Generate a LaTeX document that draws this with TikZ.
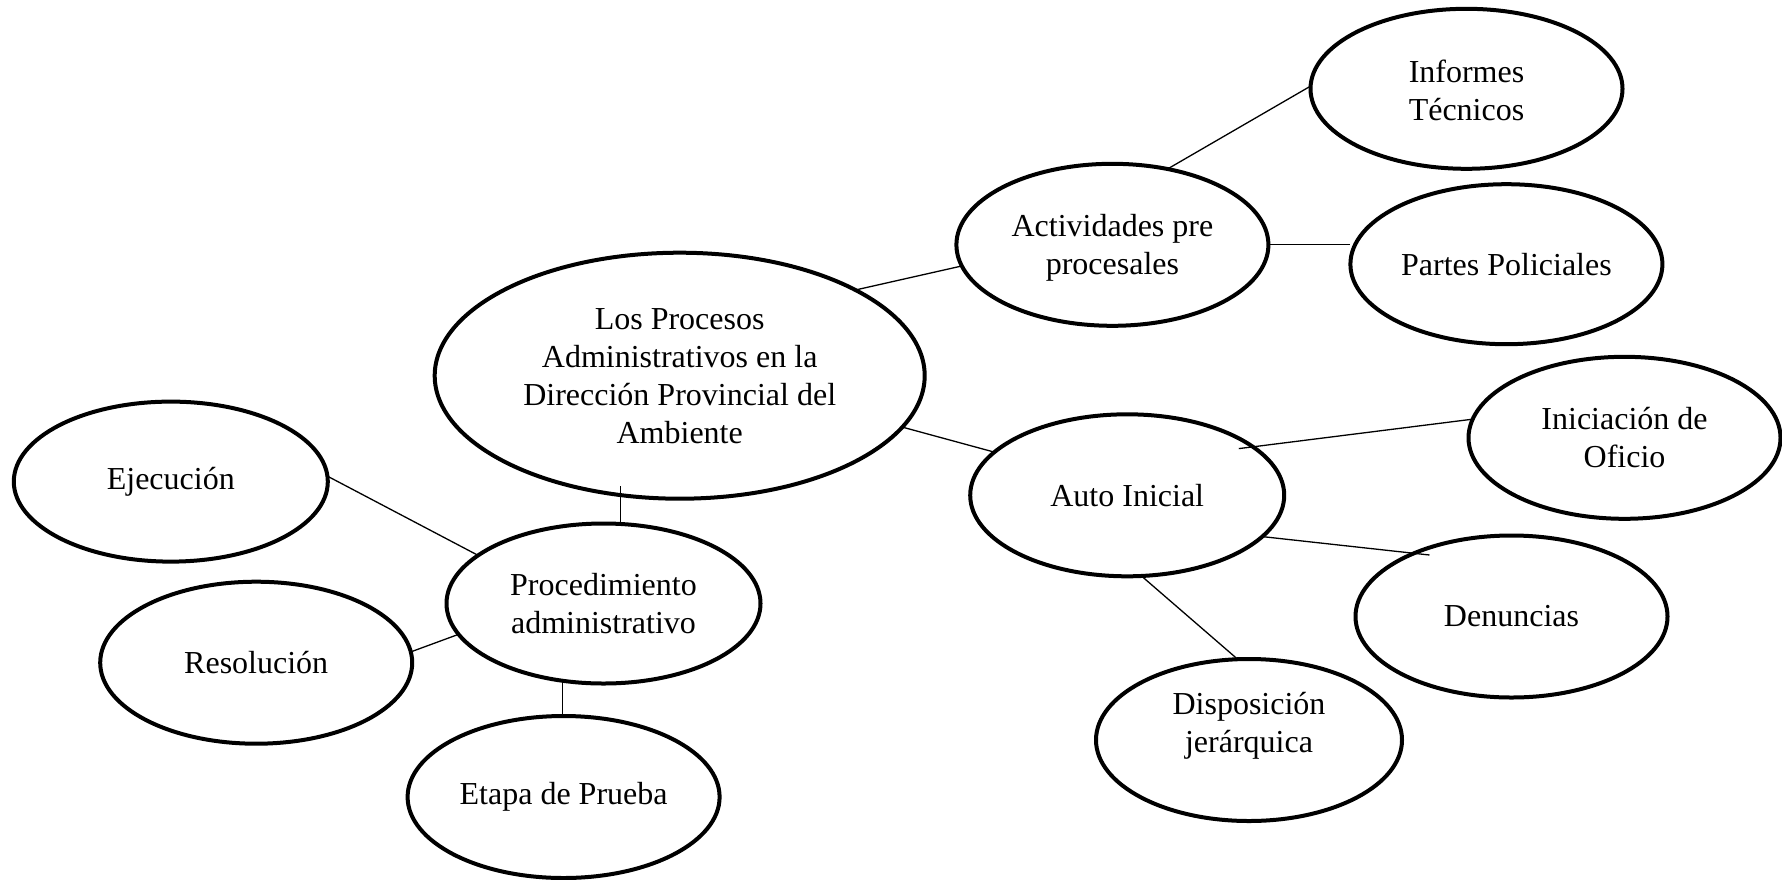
\documentclass[tikz,border=0pt]{standalone}
\usepackage{fontspec}
\setmainfont{Liberation Serif}
\usetikzlibrary{shapes.geometric,calc}
\begin{document}
\begin{tikzpicture}[x=1pt,y=-1pt,
  bub/.style={ellipse,draw=black,line width=4pt,inner sep=0pt,outer sep=0pt,
    align=center,font=\fontsize{32}{38}\selectfont},
  txt/.style={inner sep=0pt,align=center,font=\fontsize{32}{38}\selectfont},
  link/.style={draw=black,line width=1.3pt}]
\useasboundingbox (0,0) rectangle (1782,879);
\fill[white] (0,0) rectangle (1782,879);
% nodes
\node[bub,minimum width=490pt,minimum height=246pt] (main) at (679.7,375.7) {Los Procesos\\Administrativos en la\\Dirección Provincial del\\Ambiente};
\node[bub,minimum width=312pt,minimum height=162pt] (act) at (1112.4,244.8) {};
\node[txt] at ($(act.center)+(0,3)$) {Actividades pre\\procesales};
\node[bub,minimum width=312pt,minimum height=160pt] (inf) at (1466.5,88.8) {};
\node[txt] at ($(inf.center)+(0,2)$) {Informes\\Técnicos};
\node[bub,minimum width=312pt,minimum height=160pt] (partes) at (1506.4,264.2) {Partes Policiales};
\node[bub,minimum width=314pt,minimum height=162pt] (auto) at (1127.2,495.3) {Auto Inicial};
\node[bub,minimum width=312pt,minimum height=162pt] (inic) at (1624.5,437.8) {Iniciación de\\Oficio};
\node[bub,minimum width=312pt,minimum height=162pt] (den) at (1511.5,616.5) {Denuncias};
\node[bub,minimum width=306pt,minimum height=162pt] (disp) at (1249,740) {};
\node[txt] at ($(disp.center)+(0,-14)$) {Disposición\\jerárquica};
\node[bub,minimum width=314pt,minimum height=160pt] (proc) at (603.5,603.5) {Procedimiento\\administrativo};
\node[bub,minimum width=314pt,minimum height=160pt] (ejec) at (170.8,481.6) {Ejecución};
\node[bub,minimum width=312pt,minimum height=162pt] (res) at (256.2,662.7) {Resolución};
\node[bub,minimum width=312pt,minimum height=162pt] (etapa) at (563.6,797) {Etapa de Prueba};
% helper coordinates (line ends inside ellipses)
\coordinate (m1) at ($(main.center)+(-59.2,110.5)$);
\coordinate (a1) at ($(auto.center)+(111.6,-46.7)$);
\coordinate (d1) at ($(den.center)+(-82,-61.5)$);
% connectors
\draw[link] (main.26) -- (act.188);
\draw[link] (act.54) -- (inf.179);
\draw[link] (act.east) -- (act.east -| partes.west);
\draw[link] (main.-13) -- (auto.162);
\draw[link] (a1) -- (inic.173);
\draw[link] (auto.-17) -- (d1);
\draw[link] (auto.-80) -- (disp.98);
\draw[link] (m1) -- (m1 |- proc.78);
\draw[link] (ejec.2) -- (proc.159);
\draw[link] (res.4) -- (proc.192);
\draw[link] (proc.-118) -- (proc.-118 |- etapa.north);
\end{tikzpicture}
\end{document}
